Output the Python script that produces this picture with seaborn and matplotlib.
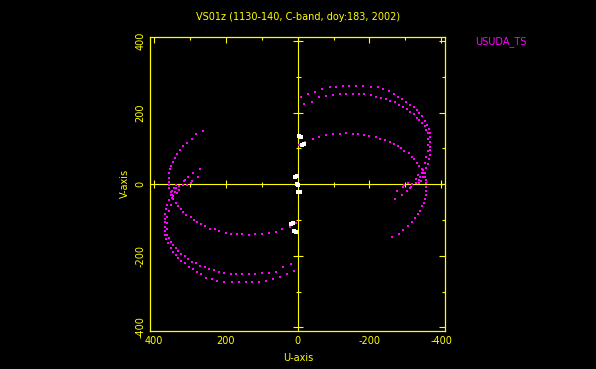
import matplotlib
matplotlib.use("Agg")
import numpy as np
import pandas as pd
import matplotlib.pyplot as plt
import seaborn as sns

# --- labels ---
TITLE = "VS01z (1130-140, C-band, doy:183, 2002)"
STATION = "USUDA_TS"
X_TICKS = [400, 200, 0, -200, -400]
Y_TICKS = [-400, -200, 0, 200, 400]

# --- uv tracks (u, v); conjugates (-u, -v) are drawn too ---
# outer top row
A_U = [-11, -29, -49, -69, -89, -108, -126, -144, -163, -181, -205, -223, -237, -254,
       -268, -280, -291, -302, -314, -323, -331, -339, -346, -353, -359, -365, -369,
       -369, -369, -369, -369, -367, -365, -362, -358, -353, -348, -344, -339]
A_V = [243, 251, 258, 265, 270, 272, 274, 274, 274, 274, 272, 271, 266, 261,
       251, 244, 237, 230, 221, 215, 207, 198, 189, 177, 165, 153, 142,
       131, 119, 105, 96, 82, 70, 57, 45, 31, 20, 10, 3]
# inner top row
B_U = [-19, -41, -59, -80, -98, -117, -135, -154, -170, -186, -203, -219, -232, -246,
       -258, -272, -283, -294, -304, -314, -323, -331, -339, -346, -353, -358, -362,
       -364, -364, -362, -358, -353, -348, -345, -341, -337, -330, -319, -306]
B_V = [224, 230, 244, 247, 249, 251, 252, 252, 252, 251, 249, 244, 240, 237,
       232, 228, 220, 216, 209, 201, 195, 186, 179, 170, 161, 150, 142,
       125, 108, 92, 75, 59, 40, 32, 21, 12, 4, 1, 3]
# lower arc running down into the tail
C_U = [-3, -22, -43, -61, -80, -98, -117, -135, -154, -169, -186, -200, -217, -230,
       -244, -256, -267, -279, -288, -297, -309, -319, -325, -333, -339, -346, -350,
       -353, -356, -358, -358, -357, -356, -354, -351, -346, -341, -334, -327, -318,
       -306, -294, -281, -263]
C_V = [109, 119, 126, 133, 136, 139, 140, 142, 140, 140, 138, 135, 131, 126,
       124, 117, 112, 107, 100, 93, 86, 77, 70, 60, 52, 42, 31,
       21, 12, 3, -7, -18, -30, -42, -52, -62, -74, -83, -95, -106,
       -116, -127, -139, -148]
# weak samples near the crossing
F_U = [-293, -316, -304, -276, -290, -272, -297, -312, -336, -329]
F_V = [-9, -9, -20, -19, -30, -41, -3, -12, 25, 15]
# white samples close to the origin
W_U = [-5, -9, -13, -17, 2, 6, 1]
W_V = [134, 132, 109, 111, 22, 21, 1]

MAGENTA = "#ff00ff"
YELLOW = "#ffff00"


def with_conjugate(us, vs):
    us = np.asarray(us, dtype=float)
    vs = np.asarray(vs, dtype=float)
    return pd.DataFrame({"u": np.concatenate([us, -us]), "v": np.concatenate([vs, -vs])})


main_df = pd.concat([with_conjugate(A_U, A_V), with_conjugate(B_U, B_V),
                     with_conjugate(C_U, C_V)], ignore_index=True)
faint_df = with_conjugate(F_U, F_V)
white_df = with_conjugate(W_U, W_V)

sns.set_style("dark", {"axes.facecolor": "black", "figure.facecolor": "black",
                       "axes.edgecolor": YELLOW, "text.color": YELLOW,
                       "xtick.color": YELLOW, "ytick.color": YELLOW})
plt.rcParams["font.family"] = ["DejaVu Sans"]
plt.rcParams["axes.unicode_minus"] = False

fig = plt.figure(figsize=(5.96, 3.69), dpi=100, facecolor="black")
ax = fig.add_axes([0.2517, 0.1030, 0.4950, 0.7959])
ax.set_facecolor("black")

# zero lines with their own ticks
ax.axhline(0, color=YELLOW, lw=0.8, zorder=1)
ax.axvline(0, color=YELLOW, lw=0.8, zorder=1)
major = [-400, -200, 200, 400]
minor = [-300, -100, 100, 300]
ax.plot(major, [0] * 4, ls="none", marker="|", ms=6, mew=0.8, color=YELLOW, zorder=1)
ax.plot(minor, [0] * 4, ls="none", marker="|", ms=3.6, mew=0.8, color=YELLOW, zorder=1)
ax.plot([0] * 4, major, ls="none", marker="_", ms=7, mew=0.8, color=YELLOW, zorder=1)
ax.plot([0] * 4, minor, ls="none", marker="_", ms=3.6, mew=0.8, color=YELLOW, zorder=1)

sns.scatterplot(data=main_df, x="u", y="v", color=MAGENTA, marker="s", s=4.5,
                linewidth=0, ax=ax, zorder=3)
sns.scatterplot(data=faint_df, x="u", y="v", color=MAGENTA, marker="s", s=1.3,
                linewidth=0, ax=ax, zorder=3)
sns.scatterplot(data=white_df, x="u", y="v", color="white", marker="s", s=5,
                linewidth=0, ax=ax, zorder=3)

ax.set_xlim(410, -410)
ax.set_ylim(-410, 410)
ax.set_xlabel("")
ax.set_ylabel("")
ax.grid(False)

ax.set_xticks(X_TICKS)
ax.set_xticklabels([str(t) for t in X_TICKS])
ax.set_yticks(Y_TICKS)
ax.set_yticklabels([str(t) for t in Y_TICKS], rotation=90, va="center")
ax.set_xticks(minor, minor=True)
ax.set_yticks(minor, minor=True)
ax.tick_params(which="both", direction="in", top=True, right=True, color=YELLOW,
               labelcolor=YELLOW, labelsize=7, width=0.8)
ax.tick_params(which="major", length=4.3, pad=3.5)
ax.tick_params(which="minor", length=2.5)
for s in ax.spines.values():
    s.set_color(YELLOW)
    s.set_linewidth(0.9)

fig.text(298 / 596, 1 - 17 / 369, TITLE, color=YELLOW, fontsize=7, ha="center", va="center")
fig.text(298 / 596, 1 - 358 / 369, "U-axis", color=YELLOW, fontsize=7, ha="center", va="center")
fig.text(125 / 596, 1 - 183 / 369, "V-axis", color=YELLOW, fontsize=7, ha="center",
         va="center", rotation=90)
fig.text(475 / 596, 1 - 42 / 369, STATION, color=MAGENTA, fontsize=7, ha="left", va="center")

fig.savefig("out.png", dpi=100, facecolor="black")
